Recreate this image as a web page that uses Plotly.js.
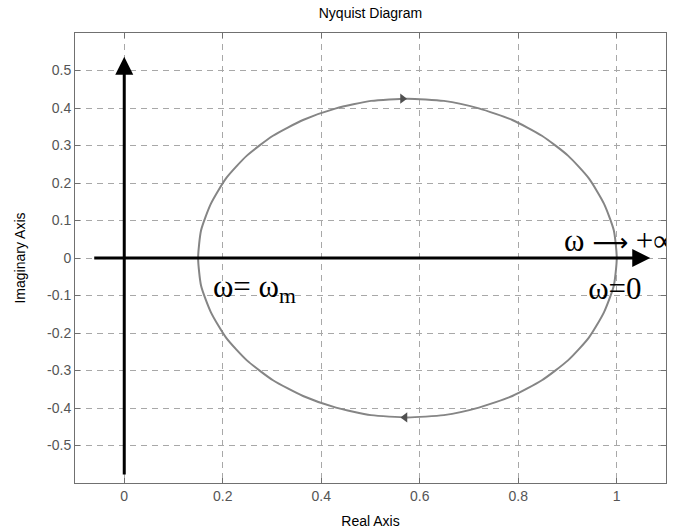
<!DOCTYPE html>
<html>
<head>
<meta charset="utf-8">
<script src="https://cdn.plot.ly/plotly-3.0.1.min.js"></script>
<style>html,body{margin:0;padding:0;background:#fff;}#plot{width:683px;height:532px;}</style>
</head>
<body>
<div id="plot"></div>
<script>
// Nyquist curve (from omega=0 at (1,0), clockwise)
var curveX = [1.000, 0.994, 0.974, 0.943, 0.901, 0.848, 0.788, 0.720, 0.649, 0.575, 0.501, 0.430, 0.363, 0.302, 0.249, 0.207, 0.176, 0.156, 0.150,
              0.156, 0.176, 0.207, 0.249, 0.302, 0.363, 0.430, 0.501, 0.575, 0.649, 0.720, 0.788, 0.848, 0.901, 0.943, 0.974, 0.994, 1.000];
var curveY = [0.000, -0.074, -0.145, -0.213, -0.273, -0.326, -0.368, -0.399, -0.419, -0.425, -0.419, -0.399, -0.368, -0.326, -0.273, -0.213, -0.145, -0.074, 0.000,
              0.074, 0.145, 0.213, 0.273, 0.326, 0.368, 0.399, 0.419, 0.425, 0.419, 0.399, 0.368, 0.326, 0.273, 0.213, 0.145, 0.074, 0.000];

// direction arrows on the curve
var dirX = [0.565, 0.570];
var dirY = [0.425, -0.425];
var dirSymbols = ['triangle-right', 'triangle-left'];

// black coordinate axes (tail, tip)
var realAxisArrow = [-0.064, 1.068];
var imagAxisArrow = [-0.581, 0.537];

// labels
var labelText = ['ω <span style="font-family:DejaVu Sans;font-size:25px">⟶</span> +∞', 'ω=0', 'ω= ω<sub>m</sub>'];
var labelX = [0.893, 0.942, 0.180];
var labelY = [0.040, -0.088, -0.082];

var xTickVals = [0, 0.2, 0.4, 0.6, 0.8, 1];
var xTickText = ['0', '0.2', '0.4', '0.6', '0.8', '1'];
var yTickVals = [-0.5, -0.4, -0.3, -0.2, -0.1, 0, 0.1, 0.2, 0.3, 0.4, 0.5];
var yTickText = ['-0.5', '-0.4', '-0.3', '-0.2', '-0.1', '0', '0.1', '0.2', '0.3', '0.4', '0.5'];

var sans = 'Liberation Sans, Arial, sans-serif';
var serif = 'Liberation Serif, Times New Roman, serif';

var traces = [
  {x: curveX, y: curveY, mode: 'lines', line: {color: '#858585', width: 2, shape: 'spline', smoothing: 0.6}, hoverinfo: 'none'},
  {x: dirX, y: dirY, mode: 'markers', marker: {symbol: dirSymbols, size: 9, color: '#505050'}, hoverinfo: 'none'},
  {x: labelX, y: labelY, mode: 'text', text: labelText, textposition: 'middle right',
   textfont: {family: serif, size: 31, color: '#000'}, cliponaxis: true, hoverinfo: 'none'}
];

var axisStyle = {
  showgrid: true, gridcolor: '#a8a8a8', griddash: '6px,5px', gridwidth: 1,
  zeroline: false, showline: true, linecolor: '#707070', linewidth: 1, mirror: 'ticks',
  ticks: 'inside', ticklen: 5, tickcolor: '#707070',
  tickfont: {family: sans, size: 14, color: '#555'}
};

var layout = {
  width: 683, height: 532,
  margin: {l: 75, r: 17, t: 33, b: 49},
  paper_bgcolor: '#fff', plot_bgcolor: '#fff',
  showlegend: false,
  title: {text: 'Nyquist Diagram', font: {family: sans, size: 14, color: '#000'},
          x: 0.5, xref: 'paper', y: 1 - 13 / 532, yref: 'container', yanchor: 'middle'},
  xaxis: Object.assign({}, axisStyle, {
    range: [-0.1, 1.1], tickvals: xTickVals, ticktext: xTickText,
    title: {text: 'Real Axis', font: {family: sans, size: 14, color: '#000'}, standoff: 13}
  }),
  yaxis: Object.assign({}, axisStyle, {
    range: [-0.6, 0.6], tickvals: yTickVals, ticktext: yTickText,
    title: {text: 'Imaginary Axis', font: {family: sans, size: 14, color: '#000'}, standoff: 18}
  }),
  annotations: [
    {x: realAxisArrow[1], y: 0, ax: realAxisArrow[0], ay: 0, xref: 'x', yref: 'y', axref: 'x', ayref: 'y',
     text: '', showarrow: true, arrowhead: 2, arrowsize: 1.2, arrowwidth: 3, arrowcolor: '#000'},
    {x: 0, y: imagAxisArrow[1], ax: 0, ay: imagAxisArrow[0], xref: 'x', yref: 'y', axref: 'x', ayref: 'y',
     text: '', showarrow: true, arrowhead: 2, arrowsize: 1.2, arrowwidth: 3, arrowcolor: '#000'}
  ]
};

Plotly.newPlot('plot', traces, layout, {staticPlot: true, displayModeBar: false});
</script>
</body>
</html>
